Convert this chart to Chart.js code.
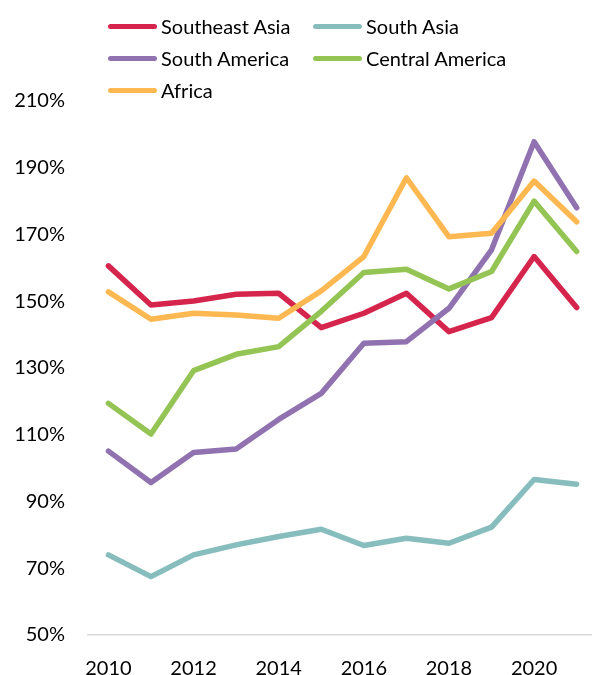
<!DOCTYPE html>
<html>
<head>
<meta charset="utf-8">
<script src="https://cdn.jsdelivr.net/npm/chart.js@4/dist/chart.umd.min.js"></script>
<style>
  html, body { margin: 0; padding: 0; background: #fff; overflow: hidden; }
  #wrap { position: relative; width: 592px; height: 675px; }
  #legend {
    position: absolute; left: 108px; top: 10px;
    display: grid; grid-template-columns: 205px 205px; grid-auto-rows: 32px;
    font-family: Lato, "Liberation Sans", sans-serif; font-size: 20px; color: #000;
  }
  .item { display: flex; align-items: center; white-space: nowrap; }
  .swatch { width: 49px; height: 5px; border-radius: 3px; margin-right: 4px; }
</style>
</head>
<body>
<div id="wrap">
  <canvas id="myChart" width="592" height="675"></canvas>
  <div id="legend"></div>
</div>
<script>
// years and regional values (percent)
var years = [2010, 2011, 2012, 2013, 2014, 2015, 2016, 2017, 2018, 2019, 2020, 2021];
var yearTicks = [2010, 2012, 2014, 2016, 2018, 2020];
var yTicks = [50, 70, 90, 110, 130, 150, 170, 190, 210];

var southeastAsia = [160.6, 148.9, 150.1, 152.1, 152.4, 142.1, 146.4, 152.4, 140.9, 145.1, 163.4, 148.1];
var southAsia = [74.0, 67.5, 74.0, 77.0, 79.5, 81.7, 76.8, 79.0, 77.5, 82.3, 96.6, 95.2];
var southAmerica = [105.1, 95.7, 104.7, 105.7, 114.6, 122.4, 137.4, 137.9, 147.9, 165.4, 197.8, 178.0];
var centralAmerica = [119.4, 110.2, 129.2, 134.1, 136.4, 147.0, 158.6, 159.6, 153.7, 158.9, 180.0, 164.9];
var africa = [152.8, 144.6, 146.4, 145.9, 144.9, 153.1, 163.4, 187.0, 169.3, 170.4, 186.0, 173.8];

var seriesNames = ["Southeast Asia", "South Asia", "South America", "Central America", "Africa"];
var seriesData = [southeastAsia, southAsia, southAmerica, centralAmerica, africa];
var seriesColors = ["#D6254D", "#87BDBD", "#9072B0", "#93C454", "#FDB851"];

function toPoints(values) {
    return values.map(function (v, i) { return { x: years[i], y: v }; });
}

var datasets = seriesNames.map(function (name, i) {
    return {
        label: name,
        data: toPoints(seriesData[i]),
        borderColor: seriesColors[i],
        backgroundColor: seriesColors[i],
        borderWidth: 5.5,
        borderJoinStyle: "round",
        borderCapStyle: "round",
        pointRadius: 0,
        tension: 0,
        order: seriesNames.length - i   // later series on top
    };
});

var tickFont = { family: "Lato, 'Liberation Sans', sans-serif", size: 20 };

var ctx = document.getElementById("myChart").getContext("2d");
var regionChart = new Chart(ctx, {
    type: "line",
    data: { datasets: datasets },
    options: {
        responsive: false,
        animation: false,
        layout: { padding: { top: 101, right: 0, bottom: 0, left: 0 } },
        plugins: { legend: { display: false }, tooltip: { enabled: false } },
        scales: {
            x: {
                type: "linear",
                min: 2009.52,
                max: 2021.36,
                afterBuildTicks: function (scale) {
                    scale.ticks = yearTicks.map(function (v) { return { value: v }; });
                },
                afterFit: function (scale) { scale.height = 40; },
                grid: { display: false, drawTicks: false },
                border: { display: true, color: "#D9D9D9", width: 1.5 },
                ticks: {
                    color: "#000",
                    font: tickFont,
                    padding: 22,
                    maxRotation: 0,
                    callback: function (v) { return String(v); }
                }
            },
            y: {
                min: 50,
                max: 210,
                afterBuildTicks: function (scale) {
                    scale.ticks = yTicks.map(function (v) { return { value: v }; });
                },
                afterFit: function (scale) { scale.width = 88; },
                grid: { display: false, drawTicks: false },
                border: { display: false },
                ticks: {
                    color: "#000",
                    font: tickFont,
                    padding: 23,
                    callback: function (v) { return v + "%"; }
                }
            }
        }
    }
});

// legend in two columns
var legendBox = document.getElementById("legend");
regionChart.data.datasets.forEach(function (ds) {
    var item = document.createElement("div");
    item.className = "item";
    var sw = document.createElement("span");
    sw.className = "swatch";
    sw.style.background = ds.borderColor;
    var txt = document.createElement("span");
    txt.textContent = ds.label;
    item.appendChild(sw);
    item.appendChild(txt);
    legendBox.appendChild(item);
});
</script>
</body>
</html>
